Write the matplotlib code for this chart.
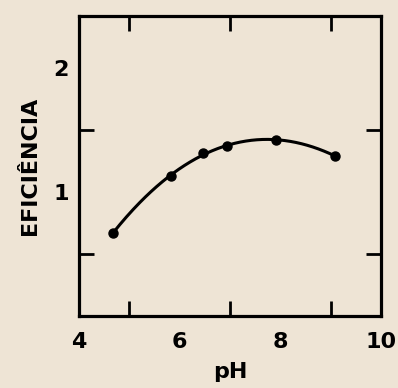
import numpy as np
import matplotlib
matplotlib.use("Agg")
import matplotlib.pyplot as plt

# data
ph = [4.68, 5.83, 6.47, 6.94, 7.92, 9.09]
eficiencia = [0.67, 1.13, 1.31, 1.37, 1.42, 1.29]

bg = "#eee4d5"
fig = plt.figure(figsize=(3.98, 3.88), dpi=100, facecolor=bg)
ax = fig.add_axes([0.198, 0.186, 0.759, 0.773], facecolor=bg)

# smooth fitted curve through the points
coef = np.polyfit(ph, eficiencia, 3)
xs = np.linspace(ph[0], ph[-1], 200)
ax.plot(xs, np.polyval(coef, xs), color="black", lw=2.2)
ax.plot(ph, eficiencia, "o", color="black", ms=6.5)

ax.set_xlim(4, 10)
ax.set_ylim(0, 2.42)
ax.set_xticks([4, 6, 8, 10])
ax.set_xticks([5, 6, 7, 8, 9], minor=True)
ax.set_yticks([1, 2])
ax.set_yticks([0.5, 1, 1.5, 2], minor=True)

for s in ax.spines.values():
    s.set_linewidth(2.3)

ax.tick_params(which="major", direction="in", length=0, labelsize=16)
ax.tick_params(axis="x", which="major", pad=12)
ax.tick_params(axis="y", which="major", pad=7)
ax.tick_params(which="minor", direction="in", length=11, width=2,
               top=True, right=True)
for lab in ax.get_xticklabels() + ax.get_yticklabels():
    lab.set_fontweight("bold")

ax.set_xlabel("pH", fontsize=16, fontweight="bold", labelpad=7)
ax.set_ylabel("EFICIÊNCIA", fontsize=16, fontweight="bold", labelpad=10)

fig.savefig("out.png", dpi=100, facecolor=bg)
